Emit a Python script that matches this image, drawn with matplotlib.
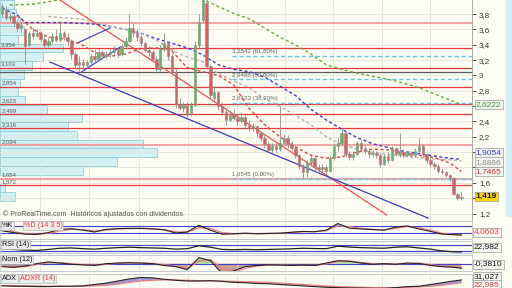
import numpy as np
import matplotlib
matplotlib.use("Agg")
import matplotlib.pyplot as plt
from matplotlib.patches import Rectangle
from matplotlib.transforms import blended_transform_factory
from matplotlib.ticker import FuncFormatter

plt.rcParams['font.family'] = ['Liberation Sans', 'DejaVu Sans']

# daily candles
opens = [3.80, 3.86, 3.75, 3.78, 3.68, 3.62, 3.60, 3.40, 3.55, 3.52,
         3.56, 3.48, 3.40, 3.45, 3.52, 3.46, 3.55, 3.50, 3.45, 3.28,
         3.14, 3.18, 3.13, 3.17, 3.25, 3.22, 3.30, 3.26, 3.28, 3.30,
         3.34, 3.28, 3.38, 3.45, 3.62, 3.55, 3.50, 3.42, 3.33, 3.30,
         3.22, 3.08, 3.35, 3.42, 3.25, 3.05, 2.63, 2.58, 2.62, 2.50,
         2.62, 3.40, 3.72, 3.95, 3.12, 2.70, 2.78, 2.60, 2.52, 2.42,
         2.50, 2.45, 2.40, 2.46, 2.36, 2.32, 2.34, 2.25, 2.18, 2.10,
         2.03, 2.08, 2.04, 2.12, 2.18, 2.10, 2.05, 1.96, 1.82, 1.74,
         1.86, 1.92, 1.80, 1.78, 1.80, 1.76, 1.92, 2.08, 2.12, 2.25,
         1.98, 1.94, 1.98, 2.12, 2.05, 2.02, 1.97, 1.99, 1.96, 1.85,
         1.95, 1.90, 2.05, 1.98, 2.00, 1.96, 1.99, 1.96, 2.02, 2.08,
         1.97, 1.90, 1.84, 1.82, 1.76, 1.74, 1.70, 1.66, 1.46, 1.40]
highs = [3.95, 3.90, 3.82, 3.80, 3.72, 3.70, 3.62, 3.58, 3.62, 3.60,
         3.58, 3.52, 3.50, 3.55, 3.60, 3.70, 3.58, 3.55, 3.47, 3.30,
         3.25, 3.22, 3.20, 3.28, 3.34, 3.35, 3.33, 3.32, 3.36, 3.38,
         3.36, 3.42, 3.50, 3.80, 3.68, 3.60, 3.53, 3.45, 3.38, 3.33,
         3.25, 3.40, 3.56, 3.45, 3.28, 3.08, 2.70, 2.66, 2.66, 2.66,
         3.45, 3.80, 4.10, 4.00, 3.15, 2.86, 2.80, 2.65, 2.56, 2.55,
         2.56, 2.50, 2.52, 2.48, 2.42, 2.38, 2.36, 2.28, 2.22, 2.15,
         2.12, 2.12, 2.60, 2.24, 2.22, 2.14, 2.08, 1.98, 1.85, 1.90,
         1.98, 1.94, 1.84, 1.84, 1.83, 1.95, 2.12, 2.18, 2.30, 2.27,
         2.02, 2.02, 2.15, 2.16, 2.08, 2.05, 2.03, 2.02, 1.99, 1.98,
         2.00, 2.08, 2.06, 2.25, 2.04, 2.02, 2.02, 2.05, 2.18, 2.10,
         1.99, 1.92, 1.87, 1.84, 1.79, 1.76, 1.72, 1.68, 1.47, 1.48]
lows = [3.76, 3.72, 3.70, 3.65, 3.58, 3.57, 3.15, 3.38, 3.48, 3.50,
        3.44, 3.36, 3.37, 3.42, 3.44, 3.44, 3.46, 3.40, 3.22, 3.10,
        3.06, 3.08, 3.10, 3.14, 3.18, 3.20, 3.22, 3.23, 3.24, 3.28,
        3.24, 3.26, 3.36, 3.44, 3.50, 3.45, 3.38, 3.30, 3.26, 3.18,
        3.04, 3.06, 3.30, 3.20, 3.00, 2.58, 2.55, 2.52, 2.46, 2.47,
        2.60, 3.36, 3.70, 3.08, 2.70, 2.66, 2.55, 2.48, 2.36, 2.40,
        2.42, 2.35, 2.38, 2.32, 2.28, 2.27, 2.20, 2.14, 2.06, 1.99,
        2.00, 2.00, 2.02, 2.10, 2.06, 2.02, 1.92, 1.78, 1.66, 1.68,
        1.82, 1.76, 1.74, 1.74, 1.72, 1.74, 1.90, 2.02, 2.08, 1.94,
        1.90, 1.90, 1.96, 2.02, 1.98, 1.93, 1.94, 1.93, 1.80, 1.83,
        1.86, 1.88, 1.95, 1.94, 1.93, 1.94, 1.93, 1.94, 2.00, 1.94,
        1.86, 1.80, 1.78, 1.73, 1.71, 1.67, 1.63, 1.44, 1.37, 1.37]
closes = [3.90, 3.75, 3.78, 3.68, 3.62, 3.66, 3.38, 3.55, 3.52, 3.56,
          3.48, 3.40, 3.45, 3.52, 3.46, 3.55, 3.50, 3.45, 3.28, 3.14,
          3.18, 3.13, 3.17, 3.25, 3.22, 3.30, 3.26, 3.28, 3.30, 3.34,
          3.28, 3.38, 3.45, 3.62, 3.55, 3.50, 3.42, 3.33, 3.30, 3.22,
          3.08, 3.35, 3.42, 3.25, 3.05, 2.63, 2.58, 2.62, 2.50, 2.62,
          3.40, 3.70, 3.98, 3.12, 2.75, 2.78, 2.60, 2.52, 2.42, 2.50,
          2.45, 2.40, 2.46, 2.36, 2.32, 2.34, 2.25, 2.18, 2.10, 2.03,
          2.08, 2.04, 2.12, 2.18, 2.10, 2.05, 1.96, 1.82, 1.74, 1.86,
          1.92, 1.80, 1.78, 1.80, 1.76, 1.92, 2.08, 2.12, 2.25, 1.98,
          1.94, 1.98, 2.12, 2.05, 2.02, 1.97, 1.99, 1.96, 1.85, 1.95,
          1.90, 2.05, 1.98, 2.00, 1.96, 1.99, 1.96, 2.02, 2.08, 1.97,
          1.90, 1.84, 1.82, 1.76, 1.74, 1.70, 1.66, 1.46, 1.40, 1.419]

# moving averages (sampled candles)
red_ma_idx = [4, 8, 12, 16, 20, 24, 28, 32, 36, 40, 44, 48, 52, 56, 60,
              64, 68, 72, 76, 80, 84, 88, 92, 96, 100, 104, 108, 112, 116, 119]
red_ma = [3.78, 3.60, 3.50, 3.48, 3.42, 3.30, 3.25, 3.28, 3.35, 3.36, 3.32,
          3.10, 3.05, 3.00, 2.88, 2.57, 2.36, 2.20, 2.07, 1.96, 1.92, 1.94,
          2.00, 2.04, 2.03, 1.99, 1.96, 1.93, 1.86, 1.7465]
grey_ma_idx = [12, 16, 20, 24, 28, 32, 36, 40, 44, 48, 52, 56, 60, 64, 68,
               72, 76, 80, 84, 88, 92, 96, 100, 104, 108, 112, 116, 119]
grey_ma = [3.77, 3.75, 3.74, 3.70, 3.64, 3.60, 3.55, 3.46, 3.33, 3.24, 3.18,
           3.02, 2.93, 2.84, 2.70, 2.60, 2.48, 2.36, 2.20, 2.10, 2.04, 2.00,
           1.97, 1.95, 1.93, 1.91, 1.90, 1.8866]
blue_ma_idx = [0, 2, 4, 6, 8, 12, 16, 20, 24, 28, 32, 36, 40, 44, 48, 52, 56,
               60, 64, 68, 72, 76, 80, 84, 88, 92, 96, 100, 104, 108, 112, 116, 119]
blue_ma = [3.88, 3.83, 3.79, 3.69, 3.69, 3.69, 3.69, 3.68, 3.67, 3.64, 3.60,
           3.55, 3.48, 3.42, 3.36, 3.27, 3.14, 3.08, 3.05, 2.98, 2.86, 2.74,
           2.56, 2.42, 2.30, 2.19, 2.11, 2.06, 2.01, 1.98, 1.95, 1.92, 1.9054]
green_ma_idx = [2, 4, 8, 12, 16, 20, 24, 28, 32, 36, 40, 44, 48, 52, 56, 60,
                64, 68, 72, 76, 80, 84, 88, 92, 96, 100, 104, 108, 112, 116, 119]
green_ma = [3.92, 3.92, 3.93, 3.96, 4.00, 4.04, 4.07, 4.10, 4.12, 4.13, 4.12,
            4.10, 4.06, 3.99, 3.90, 3.81, 3.74, 3.62, 3.50, 3.40, 3.28, 3.14,
            3.08, 3.03, 2.99, 2.95, 2.90, 2.84, 2.76, 2.68, 2.6222]

# support / resistance levels
sr_levels = [3.68, 3.354, 3.103, 2.854, 2.623, 2.499, 2.316, 2.094, 1.654, 1.572]
sr_labels = ["", "3,354", "3,103", "2,854", "2,623", "2,499", "2,316", "2,094", "1,654", "1,572"]
sr_soft = [True, False, False, False, False, False, False, True, True, False]
pivot_level = 3.05

# fibonacci retracement
fib_levels = [3.2542, 2.9488, 2.6433, 1.6545]
fib_labels = ["3,2542 (61,80%)", "2,9488 (50,00%)", "2,6433 (38,20%)", "1,6545 (0,00%)"]
fib_start = 59.6

# trendlines (candle index, price)
red_trend_idx = [15.0, 99.7]
red_trend_px = [3.984, 1.181]
blue_trend_idx = [12.4, 110.4]
blue_trend_px = [3.175, 1.14]
tri_a_idx = [19.4, 28.0]
tri_a_px = [3.42, 3.62]
tri_b_idx = [20.7, 30.6]
tri_b_px = [3.05, 3.37]

# volume profile rows
vp_price = [1.421, 1.535, 1.649, 1.763, 1.877, 1.991, 2.105, 2.219, 2.333, 2.447,
            2.561, 2.675, 2.789, 2.903, 3.017, 3.131, 3.245, 3.359, 3.473, 3.587,
            3.701, 3.815, 3.929]
vp_volume = [15, 5, 0, 83, 117, 157, 143, 77, 68, 82,
             47, 25, 18, 20, 24, 32, 43, 63, 18, 24,
             20, 16, 14]

# indicators, sampled every 3 candles
ind_idx = list(range(0, 118, 3)) + [119]
stoch_k = [40, 25, 12, 10, 25, 52, 57, 45, 30, 52, 58, 60, 60, 55, 48, 22, 30, 85, 45, 12,
           15, 20, 15, 18, 20, 28, 35, 32, 45, 100, 62, 55, 50, 45, 70, 80, 55, 35, 12, 8, 4]
stoch_d = [45, 32, 18, 12, 18, 38, 52, 50, 38, 45, 55, 58, 60, 57, 50, 32, 28, 65, 60, 25,
           15, 18, 17, 17, 19, 25, 32, 33, 40, 80, 75, 60, 52, 47, 60, 75, 65, 45, 20, 10, 8]
rsi = [45, 40, 35, 33, 40, 48, 50, 45, 42, 48, 52, 55, 52, 50, 48, 42, 45, 65, 55, 40,
       38, 40, 38, 40, 42, 44, 48, 46, 45, 62, 56, 52, 50, 48, 55, 58, 50, 42, 30, 24, 23]
mom = [-0.25, -0.30, -0.20, 0.0, 0.15, 0.05, -0.05, -0.10, -0.15, 0.0, 0.05, 0.08, 0.05, 0.0,
       -0.15, -0.25, -0.5, 0.5, 0.25, -0.8, -0.6, -0.25, -0.15, -0.1, -0.12, -0.15, -0.12,
       -0.15, 0.05, 0.25, 0.2, 0.05, -0.05, 0.0, -0.05, 0.05, 0.02, -0.15, -0.25, -0.3, -0.38]
mom_sig = [-0.2, -0.28, -0.25, -0.08, 0.08, 0.1, 0.0, -0.08, -0.12, -0.05, 0.03, 0.06, 0.06,
           0.02, -0.08, -0.2, -0.4, 0.2, 0.35, -0.4, -0.7, -0.4, -0.2, -0.12, -0.11, -0.14,
           -0.13, -0.14, -0.02, 0.18, 0.22, 0.1, 0.0, -0.02, -0.03, 0.02, 0.03, -0.08, -0.2,
           -0.28, -0.34]
adx = [14, 13, 13, 12, 12, 13, 13, 14, 18, 22, 28, 34, 38, 37, 33, 30, 28, 28, 29, 27,
       24, 23, 21, 20, 18, 16, 14, 12, 10, 9, 8, 8, 7, 7, 9, 12, 13, 18, 23, 28, 31]
adxr = [15, 15, 14, 14, 13, 13, 13, 13, 14, 16, 19, 24, 28, 30, 31, 31, 30, 29, 28, 28,
        27, 26, 25, 24, 22, 20, 18, 16, 14, 12, 11, 10, 9, 9, 9, 10, 11, 13, 16, 20, 23]

# monthly separators
month_idx = [9.8, 22.5, 35.5, 48.2, 60.9, 73.3, 85.8, 98.4, 110.9]

# price ticks covered by the value boxes on the right
hidden_ticks = [2.6, 2.0, 1.8, 1.4]

BG = '#fdfdf3'
GRID = '#e3e3da'
W = 472 / 512


def fmt_price(v, pos=None):
    if any(abs(v - h) < 1e-6 for h in hidden_ticks):
        return ""
    s = f"{v:.1f}"
    if s.endswith(".0"):
        s = s[:-2]
    return s.replace(".", ",")


def value_box(ax, y, txt, color, fc='#f3f3f0', bold=False):
    tr = blended_transform_factory(ax.transAxes, ax.transData)
    ax.text(1.008, y, txt, transform=tr, fontsize=6, color=color, va='center', ha='left',
            fontweight='bold' if bold else 'normal', clip_on=False, zorder=10,
            bbox=dict(boxstyle='square,pad=0.15', fc=fc, ec='#9a9a9a', lw=0.5))


fig = plt.figure(figsize=(5.12, 2.88), dpi=100)
fig.patch.set_facecolor(BG)
fig.add_artist(Rectangle((506 / 512, 0.25), 6 / 512, 0.75, transform=fig.transFigure,
                         color='#d6eef7', zorder=0))

ax = fig.add_axes([0, 1 - 220 / 288, W, 220 / 288])
ax.set_facecolor(BG)
ax.set_xlim(-0.518, 121.76)
ax.set_ylim(1.1154, 3.984)
ax.set_xticks(month_idx)
ax.set_xticklabels([])
ax.tick_params(axis='x', length=0)
ax.set_yticks(np.arange(1.2, 3.81, 0.2))
ax.yaxis.set_major_formatter(FuncFormatter(fmt_price))
ax.yaxis.tick_right()
ax.tick_params(axis='y', length=3, width=0.6, pad=2, labelsize=5.8, colors='#333333')
ax.grid(True, color=GRID, lw=0.6, zorder=0)
for s in ['top', 'left', 'bottom']:
    ax.spines[s].set_visible(False)
ax.spines['right'].set_color('#9a9a9a')
ax.spines['right'].set_linewidth(0.6)

# volume profile
trans = blended_transform_factory(ax.transAxes, ax.transData)
for p, v in zip(vp_price, vp_volume):
    if v <= 0:
        continue
    ax.add_patch(Rectangle((0, p - 0.057), v / 472, 0.114, transform=trans,
                           fc='#d3f0f5', ec='#8ccfd8', lw=0.6, zorder=1))

# horizontal levels
for lvl, lab, soft in zip(sr_levels, sr_labels, sr_soft):
    if soft:
        ax.axhline(lvl, color='#f2a4a4', lw=1.5, zorder=2)
    else:
        ax.axhline(lvl, color='#e5383b', lw=0.9, zorder=2)
    if lab:
        ax.text(1.2 / 3.86 - 0.518, lvl + 0.012, lab, fontsize=4.3, color='#555555',
                va='bottom', ha='left', zorder=6)
ax.axhline(pivot_level, color='#5a5a5a', lw=0.9, zorder=2)

for lvl, lab in zip(fib_levels, fib_labels):
    ax.hlines(lvl, fib_start, 121.76, colors='#62c6ea', linestyles=(0, (3, 2)), lw=1.0, zorder=2)
    ax.text(fib_start, lvl + 0.02, lab, fontsize=4.4, color='#666666', va='bottom', ha='left', zorder=6)

# trendlines
ax.plot(red_trend_idx, red_trend_px, color='#ef5350', lw=0.9, zorder=3)
ax.plot(blue_trend_idx, blue_trend_px, color='#3a3ab8', lw=0.9, zorder=3)
ax.plot(tri_a_idx, tri_a_px, color='#4a4ad0', lw=0.9, zorder=3)
ax.plot(tri_b_idx, tri_b_px, color='#4a4ad0', lw=0.9, zorder=3)

# moving averages
dash = (0, (2.2, 1.8))
ax.plot(green_ma_idx, green_ma, color='#6aaa3a', lw=1.0, ls=dash, zorder=3)
ax.plot(blue_ma_idx, blue_ma, color='#3a3ad0', lw=1.0, ls=dash, zorder=3)
ax.plot(grey_ma_idx, grey_ma, color='#b0b0b0', lw=1.0, ls=dash, zorder=3)
ax.plot(red_ma_idx, red_ma, color='#e84040', lw=1.0, ls=dash, zorder=3)

# candles
idx = np.arange(len(closes))
o = np.array(opens)
c = np.array(closes)
ax.vlines(idx, lows, highs, color='#8c8c8c', lw=0.6, zorder=4)
body_lo = np.minimum(o, c)
body_h = np.maximum(np.abs(c - o), 0.008)
cols = ['#5cb85c' if cc >= oo else '#e05a5a' for oo, cc in zip(o, c)]
ax.bar(idx, body_h, bottom=body_lo, width=0.62, color=cols, edgecolor='#8c8c8c',
       linewidth=0.4, zorder=5)

# right side value boxes
value_box(ax, green_ma[-1], "2,6222", '#3c9a2c')
value_box(ax, 1.99, "1,9054", '#3a3ad0')
value_box(ax, 1.87, "1,8866", '#8a8a8a')
value_box(ax, red_ma[-1], "1,7465", '#e03030')
value_box(ax, closes[-1], "1,419", '#111111', fc='#ffd400', bold=True)

fig.text(3 / 512, 1 - 214 / 288, "© ProRealTime.com  Históricos ajustados con dividendos",
         fontsize=5, color='#555555', va='center', ha='left')


# indicator panels
def panel(top_px, bot_px, ylim):
    a = fig.add_axes([0, 1 - bot_px / 288, W, (bot_px - top_px) / 288], sharex=ax)
    a.set_facecolor(BG)
    a.set_ylim(*ylim)
    a.set_yticks([])
    a.tick_params(axis='x', length=0, labelbottom=False)
    a.grid(True, axis='x', color=GRID, lw=0.6, zorder=0)
    for s in a.spines.values():
        s.set_color('#c3ccd2')
        s.set_linewidth(0.7)
    return a


def tag(a, x, txt, color):
    a.text(x, 0.95, txt, transform=a.transAxes, fontsize=5.2, color=color, va='top', ha='left',
           zorder=10, bbox=dict(boxstyle='square,pad=0.12', fc='#ececec', ec='#aaaaaa', lw=0.4))


def side_label(y_px, txt, color):
    fig.text(474 / 512, 1 - y_px / 288, txt, fontsize=6, color=color, va='center', ha='left',
             bbox=dict(boxstyle='square,pad=0.12', fc='#f7f7f4', ec='#9a9a9a', lw=0.5))


ix = np.array(ind_idx)

# stochastic
ak = panel(221, 238.5, (-24, 121))
kk = np.array(stoch_k, float)
ak.fill_between(ix, kk, 80, where=kk > 80, interpolate=True, color='#8f8fd8', alpha=0.8, lw=0)
ak.fill_between(ix, kk, 20, where=kk < 20, interpolate=True, color='#e8a6a6', alpha=0.8, lw=0)
ak.axhline(80, color='#4040d0', lw=0.8)
ak.axhline(20, color='#4040d0', lw=0.8)
ak.plot(ix, stoch_d, color='#f08080', lw=0.9)
ak.plot(ix, stoch_k, color='#222222', lw=0.8)
tag(ak, 0.004, "%K", '#111111')
tag(ak, 0.05, "%D (14 3 5)", '#e04040')
side_label(232, "4,0603", '#e04040')

# rsi
ar = panel(240.5, 252.7, (18, 100))
ar.axhline(70, color='#4040d0', lw=0.8)
ar.axhline(30, color='#4040d0', lw=0.8)
ar.plot(ix, rsi, color='#222222', lw=0.9)
tag(ar, 0.004, "RSI (14)", '#111111')
side_label(247, "22,982", '#111111')

# momentum
am = panel(255, 271, (-0.61, 0.72))
mm = np.array(mom)
am.fill_between(ix, mm, 0, where=mm > 0, interpolate=True, color='#a6d49a', lw=0)
am.fill_between(ix, mm, 0, where=mm < 0, interpolate=True, color='#c9a092', lw=0)
am.axhline(0, color='#4040d0', lw=0.8)
am.plot(ix, mom_sig, color='#f08080', lw=0.9)
am.plot(ix, mom, color='#222222', lw=0.8)
tag(am, 0.004, "Nom (12)", '#111111')
side_label(264, "-0,3810", '#111111')

# adx
aa = panel(274, 288, (8, 48))
ad = np.array(adx, float)
adr = np.array(adxr, float)
aa.fill_between(ix, ad, adr, where=ad > adr, interpolate=True, color='#9a9ad8', lw=0)
aa.fill_between(ix, ad, adr, where=ad < adr, interpolate=True, color='#e6b0a8', lw=0)
aa.plot(ix, adxr, color='#f08080', lw=0.9)
aa.plot(ix, adx, color='#222222', lw=0.8)
tag(aa, 0.004, "ADX", '#111111')
tag(aa, 0.042, "ADXR (14)", '#e04040')
side_label(276.5, "31,027", '#111111')
side_label(284.5, "22,985", '#e04040')

fig.savefig("out.png", dpi=100, facecolor=BG)
